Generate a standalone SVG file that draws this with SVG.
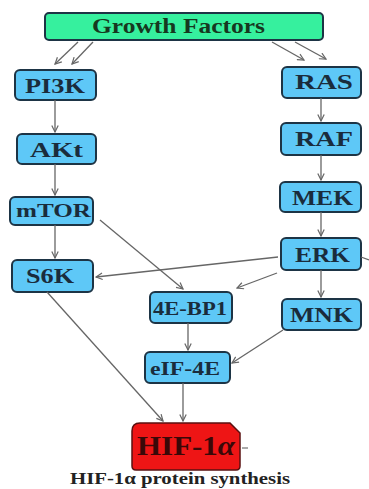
<svg xmlns="http://www.w3.org/2000/svg" width="369" height="489" viewBox="0 0 369 489">
<defs>
<marker id="ah" viewBox="0 0 10 10" refX="9" refY="5" markerWidth="8" markerHeight="8" markerUnits="userSpaceOnUse" orient="auto">
<path d="M1,1 L9,5 L1,9" fill="none" stroke="#666" stroke-width="1.5"/>
</marker>
<style>
text{font-family:'Liberation Serif','Times New Roman','DejaVu Serif',serif;font-weight:bold}
.n rect{fill:#5ec8f7;stroke:#1d3445;stroke-width:2}
.n text{font-size:21px;fill:#1a2c3c;text-anchor:middle}
.c line{stroke:#666;stroke-width:1.3;marker-end:url(#ah)}
</style>
</defs>
<rect width="369" height="489" fill="#fff"/>
<g id="growth-factors" class="n">
<rect x="45" y="13" width="278" height="27" rx="4" style="fill:#36f09e"/>
<text x="178.5" y="33" style="font-size:21px;fill:#163820" textLength="173" lengthAdjust="spacingAndGlyphs">Growth Factors</text>
</g>
<g id="pi3k" class="n"><rect x="15" y="70" width="81" height="30" rx="5"/><text x="55" y="93" textLength="60" lengthAdjust="spacingAndGlyphs">PI3K</text></g>
<g id="akt" class="n"><rect x="17" y="134" width="79" height="30" rx="5"/><text x="56.5" y="157" textLength="53" lengthAdjust="spacingAndGlyphs">AKt</text></g>
<g id="mtor" class="n"><rect x="10" y="197" width="83" height="28" rx="5"/><text x="53.5" y="217" style="font-size:19px" textLength="75" lengthAdjust="spacingAndGlyphs">mTOR</text></g>
<g id="s6k" class="n"><rect x="12" y="260" width="81" height="32" rx="5"/><text x="50" y="283" textLength="48" lengthAdjust="spacingAndGlyphs">S6K</text></g>
<g id="ras" class="n"><rect x="282" y="67" width="79" height="31" rx="5"/><text x="324" y="89" textLength="58" lengthAdjust="spacingAndGlyphs">RAS</text></g>
<g id="raf" class="n"><rect x="281" y="123" width="80" height="32" rx="5"/><text x="324" y="146" textLength="58" lengthAdjust="spacingAndGlyphs">RAF</text></g>
<g id="mek" class="n"><rect x="280" y="182" width="81" height="30" rx="5"/><text x="322.5" y="205" textLength="61" lengthAdjust="spacingAndGlyphs">MEK</text></g>
<g id="erk" class="n"><rect x="281" y="238" width="80" height="32" rx="5"/><text x="322.5" y="262" textLength="55" lengthAdjust="spacingAndGlyphs">ERK</text></g>
<g id="mnk" class="n"><rect x="282" y="299" width="79" height="31" rx="5"/><text x="321.5" y="322" textLength="63" lengthAdjust="spacingAndGlyphs">MNK</text></g>
<g id="4e-bp1" class="n"><rect x="150" y="292" width="82" height="31" rx="5"/><text x="190" y="315" style="font-size:19px" textLength="74" lengthAdjust="spacingAndGlyphs">4E-BP1</text></g>
<g id="eif-4e" class="n"><rect x="145" y="352" width="85" height="31" rx="5"/><text x="185" y="375" style="font-size:19px" textLength="70" lengthAdjust="spacingAndGlyphs">eIF-4E</text></g>
<g id="hif-1a">
<path d="M132,431 Q132,423 140,423 L230,423 L240,433 L240,466 Q240,470 236,470 L136,470 Q132,470 132,466 Z" fill="#ee1515" stroke="#5a1010" stroke-width="1.5"/>
<text x="186" y="455" font-size="27" fill="#3a0808" text-anchor="middle" textLength="98" lengthAdjust="spacingAndGlyphs">HIF-1<tspan font-style="italic">α</tspan></text>
<line x1="242" y1="448" x2="248" y2="448" stroke="#555" stroke-width="1"/>
</g>
<g id="caption">
<text x="180" y="484" font-size="16" fill="#222" text-anchor="middle" textLength="220" lengthAdjust="spacingAndGlyphs">HIF-1α protein synthesis</text>
</g>
<g id="connectors" class="c">
<line x1="78" y1="42" x2="55" y2="64"/>
<line x1="93" y1="42" x2="72" y2="64"/>
<line x1="272" y1="42" x2="304" y2="60"/>
<line x1="295" y1="42" x2="326" y2="59"/>
<line x1="55" y1="100" x2="55" y2="132"/>
<line x1="55" y1="164" x2="55" y2="195"/>
<line x1="55" y1="225" x2="55" y2="258"/>
<line x1="321" y1="98" x2="321" y2="121"/>
<line x1="321" y1="155" x2="321" y2="180"/>
<line x1="321" y1="212" x2="321" y2="236"/>
<line x1="321" y1="270" x2="321" y2="297"/>
<line x1="100" y1="220" x2="183" y2="289"/>
<line x1="278" y1="257" x2="96" y2="277"/>
<line x1="277" y1="273" x2="237" y2="288"/>
<line x1="47" y1="292" x2="163" y2="421"/>
<line x1="188" y1="323" x2="188" y2="350"/>
<line x1="283" y1="330" x2="232" y2="363"/>
<line x1="183" y1="383" x2="183" y2="421"/>
<line x1="361" y1="257" x2="369" y2="260" style="marker-end:none"/>
</g>
</svg>
